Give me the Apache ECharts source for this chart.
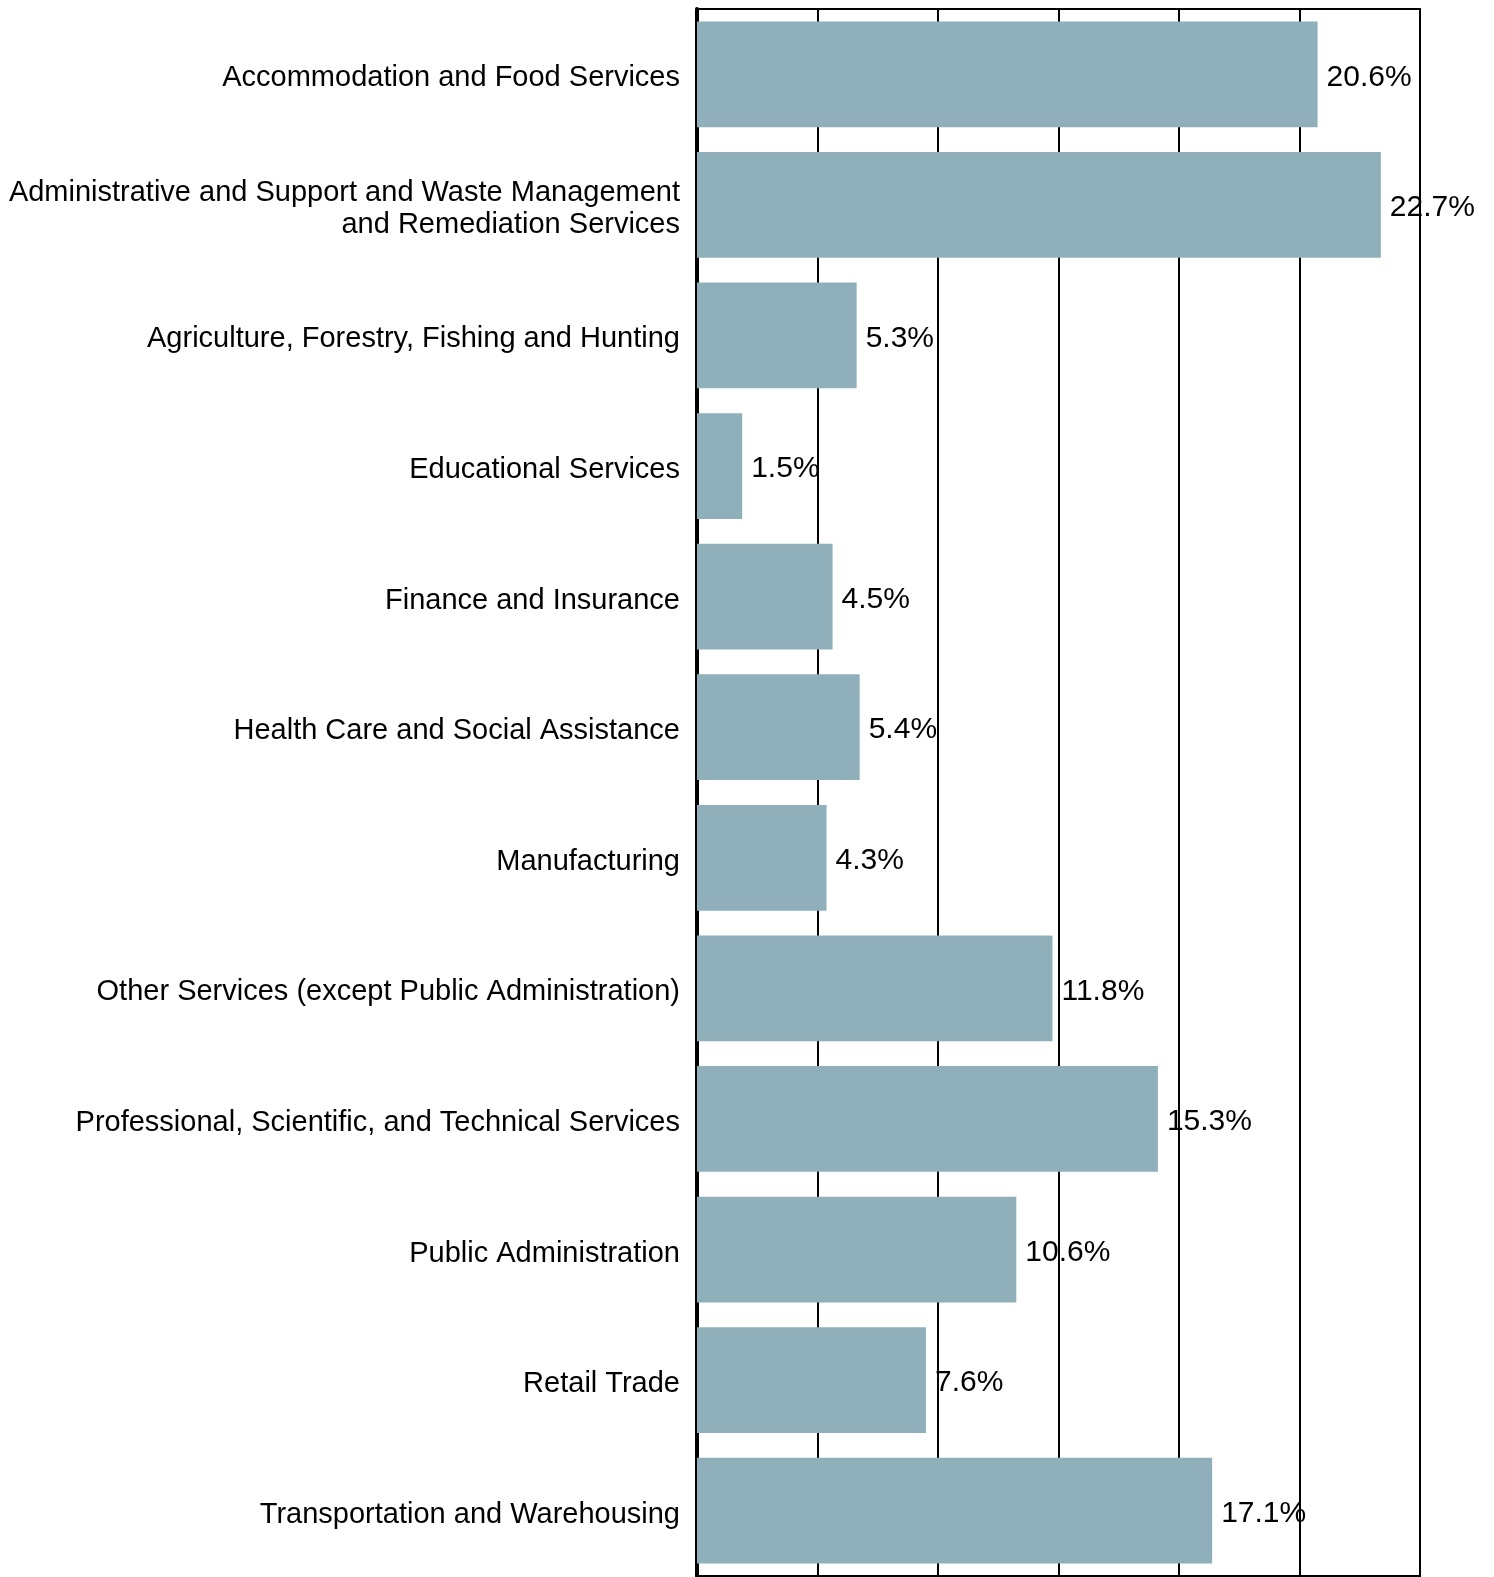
<!DOCTYPE html>
<html>
<head>
<meta charset="utf-8">
<script src="https://cdn.jsdelivr.net/npm/echarts@6/dist/echarts.min.js"></script>
<style>
  html, body { margin: 0; padding: 0; background: #fff; }
  #chart { width: 1494px; height: 1577px; }
</style>
</head>
<body>
<div id="chart"></div>
<script>
// Industry categories, listed top to bottom
const industries = [
  'Accommodation and Food Services',
  'Administrative and Support and Waste Management\nand Remediation Services',
  'Agriculture, Forestry, Fishing and Hunting',
  'Educational Services',
  'Finance and Insurance',
  'Health Care and Social Assistance',
  'Manufacturing',
  'Other Services (except Public Administration)',
  'Professional, Scientific, and Technical Services',
  'Public Administration',
  'Retail Trade',
  'Transportation and Warehousing'
];

// Share per industry, in percent
const shares = [20.6, 22.7, 5.3, 1.5, 4.5, 5.4, 4.3, 11.8, 15.3, 10.6, 7.6, 17.1];

// Value axis range
const axisMin = 0;
const axisMax = 24;
const axisStep = 4;

const FONT = '"Liberation Sans", Arial, Helvetica, sans-serif';

const chart = echarts.init(document.getElementById('chart'));
chart.setOption({
  animation: false,
  backgroundColor: '#ffffff',
  grid: {
    left: 697,
    right: 74,
    top: 9,
    bottom: 1,
    show: true,
    borderColor: '#000',
    borderWidth: 2
  },
  xAxis: {
    type: 'value',
    min: axisMin,
    max: axisMax,
    interval: axisStep,
    axisLabel: { show: false },
    axisTick: { show: false },
    axisLine: { show: false },
    splitLine: { show: true, lineStyle: { color: '#000', width: 2 } }
  },
  yAxis: {
    type: 'category',
    data: industries,
    inverse: true,
    axisTick: { show: false },
    axisLine: { show: true, lineStyle: { color: '#000', width: 4 } },
    axisLabel: {
      color: '#000',
      fontFamily: FONT,
      fontSize: 29,
      lineHeight: 32,
      margin: 17,
      align: 'right',
      // each line set a little below the band centre
      formatter: v => v.split('\n').map(line => '{t|' + line + '}').join('\n'),
      rich: {
        t: {
          color: '#000',
          fontFamily: FONT,
          fontSize: 29,
          lineHeight: 32,
          align: 'right',
          padding: [8, 0, 0, 0]
        }
      }
    }
  },
  series: [{
    type: 'bar',
    data: shares,
    barCategoryGap: '19%',
    itemStyle: { color: '#8FAFBA' },
    label: {
      show: true,
      position: 'right',
      distance: 9,
      offset: [0, 3],
      color: '#000',
      fontFamily: FONT,
      fontSize: 30,
      formatter: p => p.value.toFixed(1) + '%'
    },
    z: 3
  }]
});
</script>
</body>
</html>
